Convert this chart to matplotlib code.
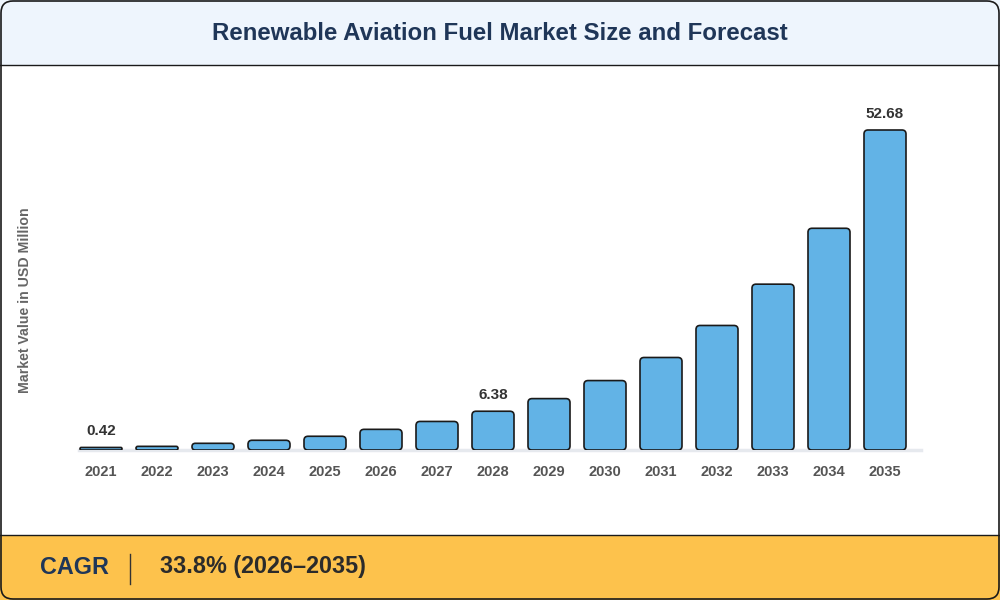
import matplotlib.pyplot as plt
from matplotlib.patches import FancyBboxPatch, Rectangle
import matplotlib.lines as mlines

plt.rcParams['font.family'] = ['Liberation Sans', 'DejaVu Sans']

years = ['2021', '2022', '2023', '2024', '2025', '2026', '2027', '2028',
         '2029', '2030', '2031', '2032', '2033', '2034', '2035']
values = [0.42, 0.6, 1.1, 1.6, 2.26, 3.4, 4.7, 6.38,
          8.46, 11.43, 15.23, 20.5, 27.3, 36.5, 52.68]
labelled = {'2021': '0.42', '2028': '6.38', '2035': '52.68'}

title = 'Renewable Aviation Fuel Market Size and Forecast'
ylabel = 'Market Value in USD Million'
cagr_label = 'CAGR'
cagr_text = '33.8% (2026\u20132035)'

fig = plt.figure(figsize=(10, 6), dpi=100)
W, H = 1000, 600

def fx(px):
    return px / W

def fy(py):
    return 1 - py / H

# background panels
bg = fig.add_axes([0, 0, 1, 1])
bg.set_xlim(0, W)
bg.set_ylim(H, 0)
bg.axis('off')
bg.add_patch(Rectangle((0, 0), W, 65, facecolor='#eef5fd', edgecolor='none'))
bg.add_patch(Rectangle((0, 535), W, 65, facecolor='#fdc24c', edgecolor='none'))
bg.add_line(mlines.Line2D([0, W], [65, 65], color='#1a1a1a', lw=1))
bg.add_line(mlines.Line2D([0, W], [535, 535], color='#1a1a1a', lw=1))
bg.add_patch(FancyBboxPatch((1, 1), W - 2, H - 2,
                            boxstyle='round,pad=0,rounding_size=12',
                            facecolor='none', edgecolor='#1a1a1a', lw=1.2))

bg.text(500, 33, title, ha='center', va='center', fontsize=17.3,
        fontweight='bold', color='#1f3658')
bg.text(40, 567, cagr_label, ha='left', va='center', fontsize=16.8,
        fontweight='bold', color='#1f3658')
bg.add_line(mlines.Line2D([130, 130], [554, 584], color='#333333', lw=1))
bg.text(160, 567, cagr_text, ha='left', va='center', fontsize=16.8,
        fontweight='bold', color='#2b2b2b')
bg.text(25, 300, ylabel, ha='center', va='center', rotation=90,
        fontsize=10.2, fontweight='bold', color='#666666')

# chart axes
left, right, bottom = 73, 913, 450
ymax = 60
px_per_unit = 320 / 52.68
top = bottom - ymax * px_per_unit
ax = fig.add_axes([fx(left), fy(bottom), fx(right - left), (bottom - top) / H])
ax.set_xlim(-0.5, len(years) - 0.5)
ax.set_ylim(0, ymax)
ax.set_facecolor('none')
for s in ax.spines.values():
    s.set_visible(False)
ax.tick_params(left=False, labelleft=False, bottom=False)
ax.set_xticks(range(len(years)))
ax.set_xticklabels(years, fontsize=10.5, fontweight='bold', color='#555555')
ax.tick_params(axis='x', pad=7)

ax.plot([-0.4, len(years) - 0.35], [0, 0], color='#e6e9ee', lw=2.5,
        zorder=1, clip_on=False)

bw = 0.75
unit_x_px = (right - left) / len(years)
aspect = unit_x_px / px_per_unit
r = 4 / unit_x_px
for i, (yr, v) in enumerate(zip(years, values)):
    rs = min(r, v / aspect / 2)
    ax.add_patch(FancyBboxPatch((i - bw / 2, 0), bw, v,
                                boxstyle=f'round,pad=0,rounding_size={rs}',
                                mutation_aspect=aspect,
                                facecolor='#62b3e6', edgecolor='#1a1a1a',
                                lw=1.2, zorder=3))
    if yr in labelled:
        ax.annotate(labelled[yr], (i, v), xytext=(0, 6.5),
                    textcoords='offset points', ha='center', va='bottom',
                    fontsize=11, fontweight='bold', color='#333333')

fig.savefig('out.png', dpi=100)
